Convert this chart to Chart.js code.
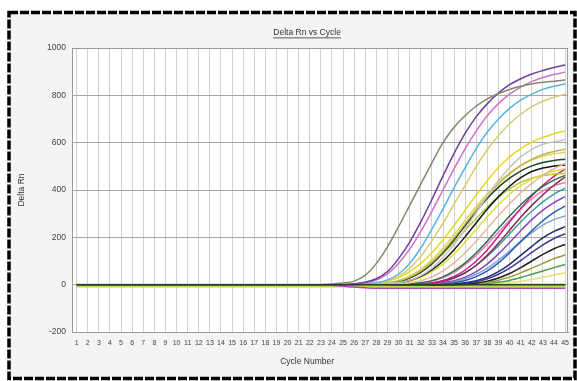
<!DOCTYPE html>
<html>
<head>
<meta charset="utf-8">
<script src="https://cdn.jsdelivr.net/npm/chart.js@4.4.1/dist/chart.umd.min.js"></script>
<style>
  html, body { margin: 0; padding: 0; background: #fff; }
  #wrap { position: relative; width: 577px; height: 381px; }
</style>
</head>
<body>
<div id="wrap"><canvas id="amp" width="577" height="381"></canvas></div>
<script>
const cycles = [1,2,3,4,5,6,7,8,9,10,11,12,13,14,15,16,17,18,19,20,21,22,23,24,25,26,27,28,29,30,31,32,33,34,35,36,37,38,39,40,41,42,43,44,45];
const yTicks = [-200, 0, 200, 400, 600, 800, 1000];

// Delta Rn per well, cycles 1..45
const baseDark = [0,0,0,0,0,0,0,0,0,0, 0,0,0,0,0,0,0,0,0,0, 0,0,0,0,0,0,0,0,0,0, 0,0,0,0,0,0,0,0,0,0, 0,0,0,0,0];
const dropWell = [0,0,0,0,0,0,0,0,0,0, 0,0,0,0,0,0,0,0,0,0, 0,0,0, -2,-6,-10,-13,-15,-15,-15,-15,-15,-15,-15,-15,-15,-15,-15,-15,-15,-15,-15,-15,-15,-15];
const grayWell = [0,0,0,0,0,0,0,0,0,0, 0,0,0,0,0,0,0,0,0,0, 0,0,0, 3,7,15,40,90,160,245,335,425,515,600,665,715,755,785,808,825,838,848,855,860,865];
const purpleWell = [0,0,0,0,0,0,0,0,0,0, 0,0,0,0,0,0,0,0,0,0, 0,0,0,0,0, 4,10,25,55,110,180,265,360,460,555,640,710,765,810,845,870,890,905,918,928];
const pinkWell = [0,0,0,0,0,0,0,0,0,0, 0,0,0,0,0,0,0,0,0,0, 0,0,0,0,0, 3,8,20,45,90,150,225,310,400,490,575,650,715,765,805,835,858,875,888,898];
const cyanWell = [0,0,0,0,0,0,0,0,0,0, 0,0,0,0,0,0,0,0,0,0, 0,0,0,0,0,0, 3,8,20,45,90,155,235,320,410,495,575,645,700,745,780,805,825,838,848];
const tanWell = [0,0,0,0,0,0,0,0,0,0, 0,0,0,0,0,0,0,0,0,0, 0,0,0,0,0,0, 3,7,16,35,70,120,185,260,340,420,500,570,630,680,720,752,775,792,805];
const yellowWell = [0,0,0,0,0,0,0,0,0,0, 0,0,0,0,0,0,0,0,0,0, 0,0,0,0,0,0, 2,6,14,30,55,90,135,190,250,315,380,440,495,540,575,603,622,638,650];
const lightGrayWell = [0,0,0,0,0,0,0,0,0,0, 0,0,0,0,0,0,0,0,0,0, 0,0,0,0,0,0,0,0, 3,8,18,38,70,115,170,235,305,375,440,495,540,572,593,604,612];
const khakiWell = [0,0,0,0,0,0,0,0,0,0, 0,0,0,0,0,0,0,0,0,0, 0,0,0,0,0,0,0, 3,7,16,32,58,95,142,198,258,318,375,425,468,503,530,550,563,572];
const yellow2Well = [0,0,0,0,0,0,0,0,0,0, 0,0,0,0,0,0,0,0,0,0, 0,0,0,0,0,0,0, 3,8,18,36,65,105,155,212,272,330,385,432,472,504,527,543,553,560];
const darkGreenWell = [0,0,0,0,0,0,0,0,0,0, 0,0,0,0,0,0,0,0,0,0, 0,0,0,0,0,0,0, 2,6,14,28,52,88,135,190,250,310,365,412,450,480,502,516,525,530];
const peachWell = [0,0,0,0,0,0,0,0,0,0, 0,0,0,0,0,0,0,0,0,0, 0,0,0,0,0,0,0,0,0, 3,8,17,33,58,92,135,185,238,292,342,388,428,462,490,512];
const blackWell = [0,0,0,0,0,0,0,0,0,0, 0,0,0,0,0,0,0,0,0,0, 0,0,0,0,0,0,0,0, 3,8,18,35,62,100,148,203,262,320,372,416,452,478,493,501,506];
const yellow3Well = [0,0,0,0,0,0,0,0,0,0, 0,0,0,0,0,0,0,0,0,0, 0,0,0,0,0,0,0,0, 3,7,15,30,54,88,130,180,234,288,338,382,418,446,466,480,490];
const limeWell = [0,0,0,0,0,0,0,0,0,0, 0,0,0,0,0,0,0,0,0,0, 0,0,0,0,0,0,0, 3,7,15,30,55,90,132,180,230,280,328,370,405,432,450,461,467,471];
const forestWell = [0,0,0,0,0,0,0,0,0,0, 0,0,0,0,0,0,0,0,0,0, 0,0,0,0,0,0,0,0,0,0, 3,8,17,33,58,92,135,185,238,290,338,380,415,442,462];
const magentaWell = [0,0,0,0,0,0,0,0,0,0, 0,0,0,0,0,0,0,0,0,0, 0,0,0,0,0,0,0,0,0,0,0, 3,8,18,35,62,100,148,205,265,322,375,420,458,488];
const maroonWell = [0,0,0,0,0,0,0,0,0,0, 0,0,0,0,0,0,0,0,0,0, 0,0,0,0,0,0,0,0,0,0,0, 2,6,14,28,50,82,125,175,230,285,335,380,420,455];
const rosyWell = [0,0,0,0,0,0,0,0,0,0, 0,0,0,0,0,0,0,0,0,0, 0,0,0,0,0,0,0,0,0,0, 3,7,15,30,52,85,125,172,222,272,320,362,396,418,432];
const tealWell = [0,0,0,0,0,0,0,0,0,0, 0,0,0,0,0,0,0,0,0,0, 0,0,0,0,0,0,0,0,0,0,0, 3,7,15,30,52,82,120,165,215,265,310,350,383,408];
const violetWell = [0,0,0,0,0,0,0,0,0,0, 0,0,0,0,0,0,0,0,0,0, 0,0,0,0,0,0,0,0,0,0,0,0, 3,8,17,32,55,88,130,178,228,275,315,347,372];
const blueWell = [0,0,0,0,0,0,0,0,0,0, 0,0,0,0,0,0,0,0,0,0, 0,0,0,0,0,0,0,0,0,0,0,0,0, 3,8,18,34,58,92,135,182,228,270,305,332];
const skyWell = [0,0,0,0,0,0,0,0,0,0, 0,0,0,0,0,0,0,0,0,0, 0,0,0,0,0,0,0,0,0,0,0,0, 2,6,13,25,44,70,104,142,182,220,252,275,290];
const navyWell = [0,0,0,0,0,0,0,0,0,0, 0,0,0,0,0,0,0,0,0,0, 0,0,0,0,0,0,0,0,0,0,0,0,0,0, 3,8,17,32,55,86,124,162,198,225,245];
const indigoWell = [0,0,0,0,0,0,0,0,0,0, 0,0,0,0,0,0,0,0,0,0, 0,0,0,0,0,0,0,0,0,0,0,0,0,0, 2,6,13,25,44,70,102,136,168,195,215];
const black2Well = [0,0,0,0,0,0,0,0,0,0, 0,0,0,0,0,0,0,0,0,0, 0,0,0,0,0,0,0,0,0,0,0,0,0,0,0, 3,7,15,28,47,72,100,128,152,170];
const oliveWell = [0,0,0,0,0,0,0,0,0,0, 0,0,0,0,0,0,0,0,0,0, 0,0,0,0,0,0,0,0,0,0,0,0,0,0,0, 2,5,10,19,32,50,70,90,110,125];
const greenWell = [0,0,0,0,0,0,0,0,0,0, 0,0,0,0,0,0,0,0,0,0, 0,0,0,0,0,0,0,0,0,0,0,0,0,0,0,0, 2,5,10,18,30,44,58,72,85];
const paleWell = [0,0,0,0,0,0,0,0,0,0, 0,0,0,0,0,0,0,0,0,0, 0,0,0,0,0,0,0,0,0,0,0,0,0,0,0,0,0, 2,4,8,14,22,31,41,50];
const baseLight = [-3,-3,-3,-3,-3,-3,-3,-3,-3,-3, -3,-3,-3,-3,-3,-3,-3,-3,-3,-3, -3,-3,-3,-3,-3,-3,-3,-3,-3,-3, -3,-3,-3,-3,-3,-3,-3,-3,-3,-3, -3,-3,-3,-3,-3];

const wells = [baseDark, dropWell, grayWell, purpleWell, pinkWell, cyanWell, tanWell, yellowWell, lightGrayWell,
  khakiWell, yellow2Well, darkGreenWell, peachWell, blackWell, yellow3Well, limeWell, forestWell, magentaWell,
  maroonWell, rosyWell, tealWell, violetWell, blueWell, skyWell, navyWell, indigoWell, black2Well, oliveWell,
  greenWell, paleWell, baseLight];
const wellColors = ["#2c3f24", "#b040c8", "#86866e", "#6e3f9e", "#d070c8", "#58b4e0", "#d8cc70", "#e2da28", "#c4c4c4",
  "#c8b458", "#dcd850", "#1e4a1e", "#e8b898", "#181818", "#e0e040", "#b8c838", "#2f6f3f", "#c8208c",
  "#8a2848", "#e880c0", "#3aa0a8", "#8848b8", "#2c58b0", "#78a8d8", "#1c2c78", "#4a3890", "#202020", "#9a9a38",
  "#48a048", "#e8e070", "#b4dc58"];

const font = "'Liberation Sans', Arial, sans-serif";

const frame = {
  id: "frame",
  beforeDraw(chart) {
    const { ctx, chartArea: a } = chart;
    ctx.save();
    ctx.fillStyle = "#fff";
    ctx.fillRect(0, 0, chart.width, chart.height);
    ctx.fillStyle = "#f4f4f4";
    ctx.fillRect(9, 12, 566, 366);
    ctx.fillStyle = "#fff";
    ctx.fillRect(a.left, a.top, a.right - a.left, a.bottom - a.top);
    ctx.restore();
  },
  beforeDatasetsDraw(chart) {
    const { ctx, chartArea: a } = chart;
    ctx.save();
    ctx.strokeStyle = "#9a9a9a";
    ctx.lineWidth = 1;
    ctx.strokeRect(a.left + 0.5, a.top + 0.5, a.right - a.left - 1, a.bottom - a.top);
    ctx.restore();
  },
  afterDraw(chart) {
    const { ctx, chartArea: a } = chart;
    const cx = a.left + (a.right - a.left) * 0.474;
    ctx.save();
    ctx.font = "8.5px " + font;
    ctx.fillStyle = "#333";
    ctx.textAlign = "center";
    ctx.textBaseline = "middle";
    ctx.fillText("Delta Rn vs Cycle", cx, 33);
    const w = ctx.measureText("Delta Rn vs Cycle").width;
    ctx.fillRect(cx - w / 2, 37.5, w, 0.8);
    ctx.fillText("Cycle Number", cx, 362);
    ctx.strokeStyle = "#000";
    ctx.lineWidth = 3.5;
    ctx.setLineDash([9, 2]);
    ctx.strokeRect(9, 12.5, 566, 366);
    ctx.restore();
  },
};

new Chart(document.getElementById("amp"), {
  type: "line",
  data: {
    labels: cycles,
    datasets: wells.map((w, i) => ({
      data: w.map((v, j) => ({ x: cycles[j], y: v })),
      borderColor: wellColors[i],
      borderWidth: i === wells.length - 1 ? 4 : 1.5,
      pointRadius: 0,
      cubicInterpolationMode: "monotone",
      fill: false,
    })),
  },
  options: {
    responsive: false,
    animation: false,
    layout: { padding: { left: 14, right: 9, top: 48, bottom: 0 } },
    plugins: { legend: { display: false }, tooltip: { enabled: false } },
    scales: {
      x: {
        type: "linear",
        min: 0.58,
        max: 45.26,
        afterBuildTicks: (s) => { s.ticks = cycles.map((v) => ({ value: v })); },
        afterFit: (s) => { s.height = 49; },
        grid: { color: "#d0d0d0", drawTicks: false },
        border: { color: "#9a9a9a" },
        ticks: { font: { family: font, size: 7 }, color: "#444", padding: 7, autoSkip: false, maxRotation: 0 },
      },
      y: {
        min: -200,
        max: 1000,
        afterBuildTicks: (s) => { s.ticks = yTicks.map((v) => ({ value: v })); },
        afterFit: (s) => { s.width = 58; },
        grid: { color: "#a8a8a8", drawTicks: false },
        border: { color: "#9a9a9a" },
        ticks: { font: { family: font, size: 8.5 }, color: "#444", padding: 6, callback: (v) => String(v) },
        title: { display: true, text: "Delta Rn", font: { family: font, size: 8.5 }, color: "#333", padding: { top: 3, bottom: 0 } },
      },
    },
  },
  plugins: [frame],
});
</script>
</body>
</html>
